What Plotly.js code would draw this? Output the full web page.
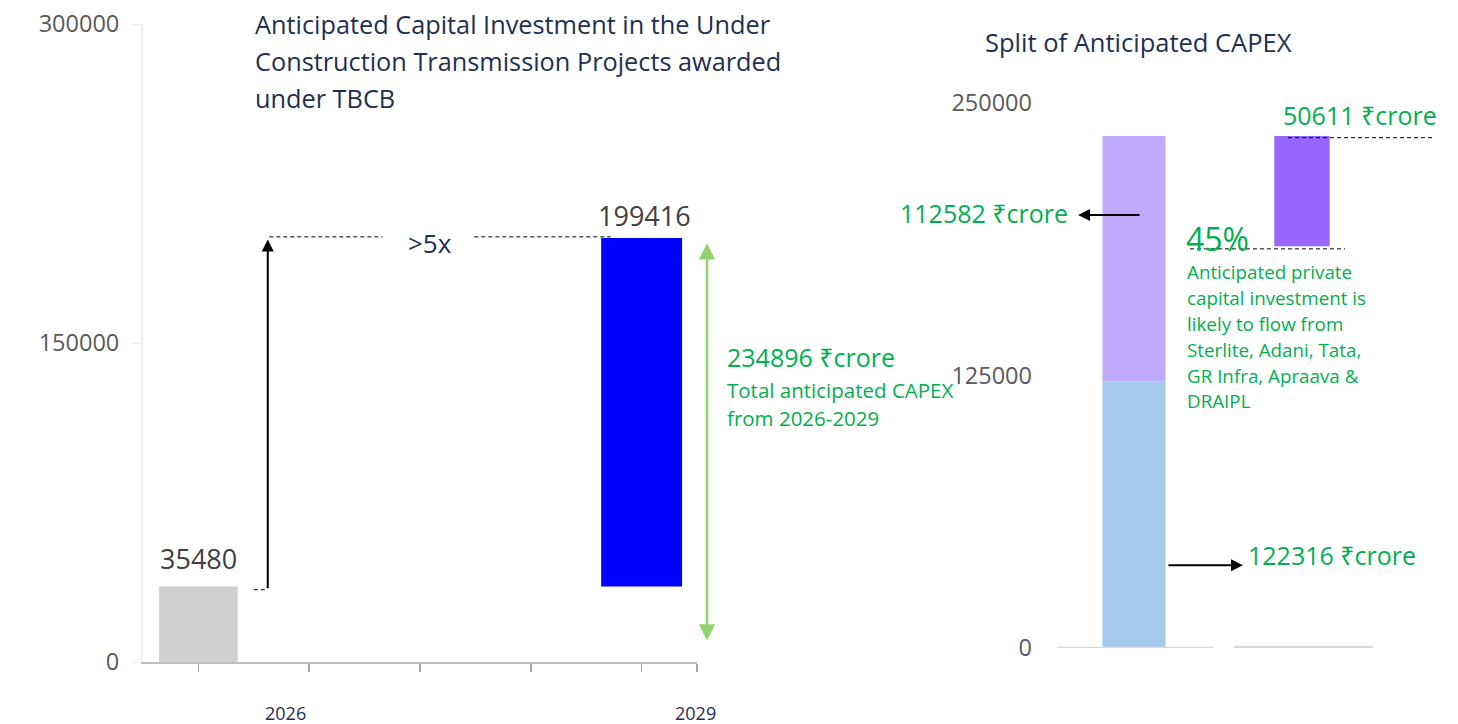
<!DOCTYPE html>
<html>
<head>
<meta charset="utf-8">
<script src="https://cdn.plot.ly/plotly-3.0.1.min.js"></script>
<style>html,body{margin:0;padding:0;background:#fff;}#chart{width:1458px;height:724px;}</style>
</head>
<body>
<div id="chart"></div>
<script>
// ---- data ----
const years = ['2026', '2029'];
const slotIndex = [0, 4];
const capex2026 = 35480;
const capex2029 = 199416;
const totalCapex = 234896;
const splitCategories = [0, 1];
const publicCapex = 122316;
const privateCapex = 112582;
const privateTbcb = 50611;
const privateShare = '45%';
const leftTicks = [0, 150000, 300000];
const rightTicks = [0, 125000, 250000];

const W = 1458, H = 724;
const px = x => x / W;
const py = y => 1 - y / H;
const FONT = '"Open Sans", "Noto Sans", sans-serif';
const NAVY = '#1f3050';
const GREEN = '#00b050';
const DASH = '4px,3px';

const traces = [
  {type: 'bar', x: [slotIndex[0]], y: [capex2026], width: 0.71, marker: {color: '#d0d0d0'}, xaxis: 'x', yaxis: 'y', hoverinfo: 'skip'},
  {type: 'bar', x: [slotIndex[1]], base: [capex2026], y: [capex2029 - capex2026], width: 0.73, marker: {color: '#0000ff'}, xaxis: 'x', yaxis: 'y', hoverinfo: 'skip'},
  {type: 'bar', x: [splitCategories[0]], y: [publicCapex], width: 0.375, marker: {color: '#a7c9ec'}, xaxis: 'x2', yaxis: 'y2', hoverinfo: 'skip'},
  {type: 'bar', x: [splitCategories[0]], base: [publicCapex], y: [privateCapex], width: 0.375, marker: {color: '#c0aafa'}, xaxis: 'x2', yaxis: 'y2', hoverinfo: 'skip'},
  {type: 'bar', x: [splitCategories[1]], base: [publicCapex + privateCapex - privateTbcb], y: [privateTbcb], width: 0.33, marker: {color: '#9966ff'}, xaxis: 'x2', yaxis: 'y2', hoverinfo: 'skip'}
];

function txt(x, y, text, size, color, opts) {
  return Object.assign({xref: 'paper', yref: 'paper', x: px(x), y: py(y), text: text, showarrow: false,
    xanchor: 'left', yanchor: 'middle', font: {family: FONT, size: size, color: color}}, opts || {});
}

const annotations = [
  txt(253, 24, 'Anticipated Capital Investment in the Under', 25.3, NAVY),
  txt(253, 61, 'Construction Transmission Projects awarded', 25.3, NAVY),
  txt(253, 98, 'under TBCB', 25.3, NAVY),
  txt(983, 42, 'Split of Anticipated CAPEX', 25.5, NAVY),
  // category labels
  txt(285, 713, years[0], 18, NAVY, {xanchor: 'center'}),
  txt(695, 713, years[1], 18, NAVY, {xanchor: 'center'}),
  // value labels
  {xref: 'x', yref: 'y', x: slotIndex[0], y: capex2026, yanchor: 'bottom', yshift: 8, showarrow: false,
   text: String(capex2026), font: {family: FONT, size: 27, color: '#404040'}},
  {xref: 'x', yref: 'y', x: slotIndex[1], y: capex2029, yanchor: 'bottom', yshift: 2, xshift: 3, showarrow: false,
   text: String(capex2029), font: {family: FONT, size: 27, color: '#404040'}},
  txt(430, 243, '>5x', 26, NAVY, {xanchor: 'center'}),
  // growth arrow
  {xref: 'x', yref: 'y', axref: 'x', ayref: 'y', x: 0.626, y: capex2029 - 800, ax: 0.626, ay: capex2026 - 1500, text: '',
   showarrow: true, arrowhead: 2, arrowsize: 1.2, arrowwidth: 2, arrowcolor: '#000'},
  // total double arrow
  {xref: 'paper', yref: 'y', axref: 'pixel', ayref: 'y', x: px(707), y: capex2029 - 2500, ax: 0, ay: 9400, text: '',
   showarrow: true, arrowside: 'end+start', arrowhead: 2, startarrowhead: 2, arrowsize: 1.3, startarrowsize: 1.3,
   arrowwidth: 2.5, arrowcolor: '#92d36e'},
  txt(725, 357, totalCapex + ' ₹crore', 25, GREEN),
  txt(725, 390, 'Total anticipated CAPEX', 20.5, GREEN),
  txt(725, 418, 'from 2026-2029', 20.5, GREEN),
  // right chart
  txt(1281, 115, privateTbcb + ' ₹crore', 25, GREEN),
  txt(898, 213, privateCapex + ' ₹crore', 25, GREEN),
  {xref: 'x2', yref: 'y2', axref: 'x2', ayref: 'y2', x: -0.333, y: 198600, ax: 0.042, ay: 198600, text: '',
   showarrow: true, arrowhead: 2, arrowsize: 1.2, arrowwidth: 2, arrowcolor: '#000'},
  txt(1184, 238, privateShare, 32, GREEN),
  txt(1185, 272, 'Anticipated private', 18.8, GREEN),
  txt(1185, 298, 'capital investment is', 18.8, GREEN),
  txt(1185, 324, 'likely to flow from', 18.8, GREEN),
  txt(1185, 350, 'Sterlite, Adani, Tata,', 18.8, GREEN),
  txt(1185, 376, 'GR Infra, Apraava &', 18.8, GREEN),
  txt(1185, 401, 'DRAIPL', 18.8, GREEN),
  {xref: 'x2', yref: 'y2', axref: 'x2', ayref: 'y2', x: 0.649, y: 38000, ax: 0.196, ay: 38000, text: '',
   showarrow: true, arrowhead: 2, arrowsize: 1.2, arrowwidth: 2, arrowcolor: '#000'},
  txt(1246, 555, publicCapex + ' ₹crore', 25, GREEN)
];

const shapes = [
  {type: 'line', xref: 'x', yref: 'y', x0: 0.5, x1: 0.62, y0: capex2026 - 1500, y1: capex2026 - 1500, line: {color: '#000', width: 1, dash: DASH}},
  {type: 'line', xref: 'x', yref: 'y', x0: 0.64, x1: 1.66, y0: capex2029 + 500, y1: capex2029 + 500, line: {color: '#000', width: 1, dash: DASH}},
  {type: 'line', xref: 'x', yref: 'y', x0: 2.49, x1: 3.72, y0: capex2029 + 500, y1: capex2029 + 500, line: {color: '#000', width: 1, dash: DASH}},
  {type: 'line', xref: 'x2', yref: 'y2', x0: 0.917, x1: 1.774, y0: publicCapex + privateCapex - 800, y1: publicCapex + privateCapex - 800, line: {color: '#000', width: 1, dash: DASH}},
  {type: 'line', xref: 'x2', yref: 'y2', x0: 0.333, x1: 1.256, y0: publicCapex + privateCapex - privateTbcb - 1200, y1: publicCapex + privateCapex - privateTbcb - 1200, line: {color: '#000', width: 1, dash: DASH}},
  {type: 'line', xref: 'x2', yref: 'y2', x0: -0.458, x1: 0.47, y0: 0, y1: 0, line: {color: '#d9d9d9', width: 2.5}},
  {type: 'line', xref: 'x2', yref: 'y2', x0: 0.595, x1: 1.42, y0: 500, y1: 500, line: {color: '#d9d9d9', width: 2.5}}
];

const x2Left = 1050, x2Right = 1445, catPx = 168;

const layout = {
  width: W, height: H,
  margin: {l: 0, r: 0, t: 0, b: 0},
  paper_bgcolor: '#fff', plot_bgcolor: 'rgba(0,0,0,0)',
  showlegend: false,
  barmode: 'overlay',
  font: {family: FONT},
  xaxis: {domain: [px(143), px(697)], range: [-0.5, 4.5], tickvals: [0, 1, 2, 3, 4, 4.5],
    showticklabels: false, ticks: 'outside', ticklen: 8, tickcolor: '#a6a6a6', tickwidth: 1.5,
    showline: true, linecolor: '#bfbfbf', linewidth: 2, showgrid: false, zeroline: false, fixedrange: true},
  yaxis: {domain: [1 - 662 / H, 1 - 24 / H], range: [0, 300000], tickvals: leftTicks, ticktext: leftTicks.map(String),
    tickfont: {family: FONT, size: 23.5, color: '#595959'}, ticks: 'outside', ticklen: 9, tickcolor: '#ececec',
    showline: true, linecolor: '#efefef', linewidth: 2, showgrid: false, zeroline: false, ticklabelstandoff: 8},
  xaxis2: {domain: [px(x2Left), px(x2Right)], range: [-0.5, -0.5 + (x2Right - x2Left) / catPx], anchor: 'y2', visible: false},
  yaxis2: {domain: [1 - 648 / H, 1 - 103 / H], range: [0, 250000], anchor: 'x2', tickvals: rightTicks, ticktext: rightTicks.map(String),
    tickfont: {family: FONT, size: 23.5, color: '#595959'}, ticks: '', showline: false, showgrid: false,
    zeroline: false, ticklabelstandoff: 17},
  annotations: annotations,
  shapes: shapes
};

Plotly.newPlot('chart', traces, layout, {staticPlot: true, displayModeBar: false});
</script>
</body>
</html>
